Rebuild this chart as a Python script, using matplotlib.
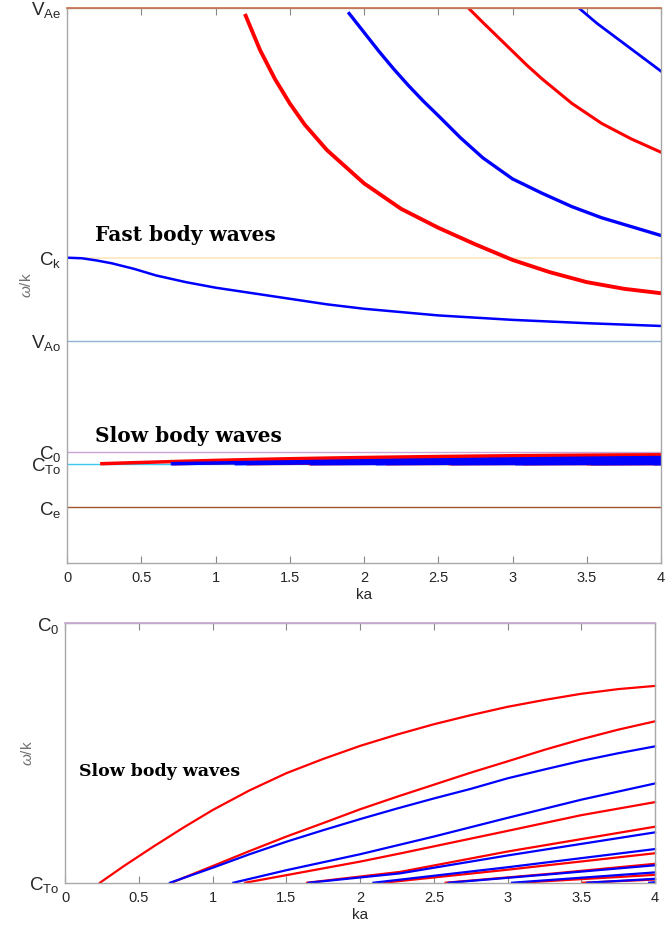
import numpy as np
import matplotlib.pyplot as plt

plt.rcParams['font.family'] = ['Liberation Sans', 'DejaVu Sans']
plt.rcParams['mathtext.fontset'] = 'custom'
plt.rcParams['mathtext.rm'] = 'Liberation Sans'
plt.rcParams['mathtext.it'] = 'Liberation Sans:italic'

# characteristic speeds (omega/k)
v_Ae = 5.0
c_k = 2.75
v_A0 = 2.0
c_0 = 1.0
c_T0 = 0.8944
c_e = 0.5

# fast body waves: ka and phase speed
fast0_ka = [0, 0.1, 0.2, 0.3, 0.45, 0.6, 0.8, 1.0, 1.25, 1.5, 1.75, 2.0, 2.5, 3.0, 3.5, 4.0]
fast0_v = [2.75, 2.745, 2.725, 2.70, 2.65, 2.59, 2.53, 2.48, 2.43, 2.38, 2.33, 2.29, 2.23, 2.19, 2.16, 2.135]
fast1_ka = [1.203, 1.3, 1.4, 1.5, 1.6, 1.75, 2.0, 2.25, 2.5, 2.75, 3.0, 3.25, 3.5, 3.75, 4.0]
fast1_v = [4.93, 4.62, 4.36, 4.14, 3.95, 3.72, 3.42, 3.19, 3.02, 2.87, 2.73, 2.62, 2.53, 2.47, 2.43]
fast2_ka = [1.9, 2.0, 2.1, 2.2, 2.3, 2.4, 2.5, 2.65, 2.8, 3.0, 3.2, 3.4, 3.6, 3.8, 4.0]
fast2_v = [4.95, 4.78, 4.61, 4.45, 4.30, 4.16, 4.03, 3.83, 3.65, 3.46, 3.33, 3.21, 3.11, 3.03, 2.95]
fast3_ka = [2.71, 2.8, 2.9, 3.0, 3.1, 3.2, 3.3, 3.4, 3.5, 3.6, 3.7, 3.8, 3.9, 4.0]
fast3_v = [4.99, 4.87, 4.74, 4.61, 4.48, 4.36, 4.25, 4.14, 4.05, 3.96, 3.89, 3.82, 3.76, 3.70]
fast4_ka = [3.455, 3.57, 3.68, 3.79, 3.9, 4.0]
fast4_v = [4.99, 4.86, 4.75, 4.64, 4.53, 4.43]

# slow body waves (red = sausage, blue = kink)
slow_r1_ka = [0.235, 0.4, 0.6, 0.8, 1.0, 1.25, 1.5, 1.75, 2.0, 2.25, 2.5, 2.75, 3.0, 3.25, 3.5, 3.75, 4.0]
slow_r1_v = [0.8944, 0.9013, 0.9092, 0.9168, 0.9240, 0.9320, 0.9390, 0.9448, 0.9501,
             0.9547, 0.9589, 0.9626, 0.9660, 0.9688, 0.9713, 0.9732, 0.9745]
slow_r2_ka = [0.72, 1.0, 1.25, 1.5, 1.75, 2.0, 2.25, 2.5, 2.75, 3.0, 3.25, 3.5, 3.75, 4.0]
slow_r2_v = [0.8944, 0.9012, 0.9073, 0.9132, 0.9187, 0.9243, 0.9294, 0.9343, 0.9392,
             0.9438, 0.9485, 0.9528, 0.9567, 0.9601]
slow_b1_ka = [0.71, 1.0, 1.25, 1.5, 1.75, 2.0, 2.25, 2.5, 2.75, 3.0, 3.25, 3.5, 3.75, 4.0]
slow_b1_v = [0.8944, 0.9005, 0.9060, 0.9111, 0.9158, 0.9203, 0.9246, 0.9287, 0.9326,
             0.9369, 0.9405, 0.9440, 0.9471, 0.9499]
slow_b2_ka = [1.14, 1.5, 2.0, 2.5, 3.0, 3.5, 4.0]
slow_b2_v = [0.8944, 0.8995, 0.9060, 0.9132, 0.9208, 0.9282, 0.9348]
slow_r3_ka = [1.22, 2.0, 2.27, 3.0, 3.5, 4.0]
slow_r3_v = [0.8944, 0.9030, 0.9063, 0.9155, 0.9219, 0.9272]
slow_r4_ka = [1.64, 2.27, 3.0, 4.0]
slow_r4_v = [0.8944, 0.8988, 0.9071, 0.9172]
slow_b3_ka = [1.65, 2.27, 3.0, 4.0]
slow_b3_v = [0.8944, 0.8982, 0.9055, 0.9149]
slow_b4_ka = [2.09, 3.0, 4.0]
slow_b4_v = [0.8944, 0.9007, 0.9081]
slow_r5_ka = [2.16, 3.0, 4.0]
slow_r5_v = [0.8944, 0.8997, 0.9064]
slow_r6_ka = [2.58, 3.3, 4.0]
slow_r6_v = [0.8944, 0.8981, 0.9021]
slow_b5_ka = [2.60, 3.3, 4.0]
slow_b5_v = [0.8944, 0.8979, 0.9015]
slow_b6_ka = [3.03, 4.0]
slow_b6_v = [0.8944, 0.8986]
slow_r7_ka = [3.08, 4.0]
slow_r7_v = [0.8944, 0.8976]
slow_r8_ka = [3.51, 4.0]
slow_r8_v = [0.8944, 0.8957]
slow_b7_ka = [3.54, 4.0]
slow_b7_v = [0.8944, 0.8960]
slow_b8_ka = [3.96, 4.0]
slow_b8_v = [0.8944, 0.8946]

slow_red = [(slow_r1_ka, slow_r1_v), (slow_r2_ka, slow_r2_v), (slow_r3_ka, slow_r3_v),
            (slow_r4_ka, slow_r4_v), (slow_r5_ka, slow_r5_v), (slow_r6_ka, slow_r6_v),
            (slow_r7_ka, slow_r7_v), (slow_r8_ka, slow_r8_v)]
slow_blue = [(slow_b1_ka, slow_b1_v), (slow_b2_ka, slow_b2_v), (slow_b3_ka, slow_b3_v),
             (slow_b4_ka, slow_b4_v), (slow_b5_ka, slow_b5_v), (slow_b6_ka, slow_b6_v),
             (slow_b7_ka, slow_b7_v), (slow_b8_ka, slow_b8_v)]

xticks = [0, 0.5, 1, 1.5, 2, 2.5, 3, 3.5, 4]
xticklabels = ['0', '0.5', '1', '1.5', '2', '2.5', '3', '3.5', '4']

RED = '#ff0000'
BLUE = '#0000ff'
GREY = '#a8a8a8'
TXT = '#262626'


def style_axes(ax, ylab_x):
    for s in ax.spines.values():
        s.set_color(GREY)
        s.set_linewidth(1.0)
    ax.set_xlim(0, 4)
    ax.set_xticks(xticks)
    ax.set_xticklabels(xticklabels)
    ax.tick_params(axis='x', direction='in', top=True, length=5, width=0.8,
                   color='#888888', labelsize=10.5, labelcolor=TXT, pad=6)
    ax.tick_params(axis='y', length=0, labelsize=13.5, labelcolor=TXT, pad=4)
    ax.set_xlabel('ka', fontsize=11, color=TXT, labelpad=2)
    ax.set_ylabel(r'$\omega$/k', fontsize=11, color='#707070')
    ax.yaxis.set_label_coords(ylab_x, 0.5)


fig = plt.figure(figsize=(6.65, 9.25), dpi=100)

# upper panel: full spectrum
ax1 = fig.add_axes([0.1008, 0.3914, 0.8932, 0.6])
ax1.set_ylim(0, v_Ae)
ax1.axhline(c_k, color='#fde6bf', lw=1.2, zorder=1)
ax1.axhline(v_A0, color='#8fb2d6', lw=1.0, zorder=1)
ax1.axhline(c_0, color='#c9a2d6', lw=1.0, zorder=1)
ax1.axhline(c_T0, color='#3cc8f0', lw=1.0, zorder=1)
ax1.axhline(c_e, color='#a0522d', lw=1.0, zorder=1)
ax1.axhline(v_Ae, color='#c8704a', lw=1.2, zorder=5, clip_on=False)

ax1.plot(fast0_ka, fast0_v, color=BLUE, lw=1.8)
ax1.plot(fast1_ka, fast1_v, color=RED, lw=2.8)
ax1.plot(fast2_ka, fast2_v, color=BLUE, lw=2.4)
ax1.plot(fast3_ka, fast3_v, color=RED, lw=2.2)
ax1.plot(fast4_ka, fast4_v, color=BLUE, lw=2.0)
for ka, v in slow_red:
    ax1.plot(ka, v, color=RED, lw=2.5)
for ka, v in slow_blue:
    ax1.plot(ka, v, color=BLUE, lw=2.5)

ax1.set_yticks([c_e, c_T0, c_0, v_A0, c_k, v_Ae])
ax1.set_yticklabels([r'$\mathrm{C_e}$', r'$\mathrm{C_{To}}$', r'$\mathrm{C_0}$',
                     r'$\mathrm{V_{Ao}}$', r'$\mathrm{C_k}$', r'$\mathrm{V_{Ae}}$'])
style_axes(ax1, -0.055)
ax1.text(0.19, 2.955, 'Fast body waves', fontsize=14.5, fontweight='bold',
         family='DejaVu Serif', va='center', ha='left')
ax1.text(0.19, 1.144, 'Slow body waves', fontsize=14.5, fontweight='bold',
         family='DejaVu Serif', va='center', ha='left')

# lower panel: slow band between c_T0 and c_0
ax2 = fig.add_axes([0.0982, 0.0457, 0.8868, 0.2805])
ax2.set_ylim(c_T0, c_0)
ax2.axhline(c_0, color='#c9a8d6', lw=1.2, zorder=5, clip_on=False)
for ka, v in slow_red:
    ax2.plot(ka, v, color=RED, lw=1.6, clip_on=False)
for ka, v in slow_blue:
    ax2.plot(ka, v, color=BLUE, lw=1.6, clip_on=False)
ax2.set_yticks([c_T0, c_0])
ax2.set_yticklabels([r'$\mathrm{C_{To}}$', r'$\mathrm{C_0}$'])
style_axes(ax2, -0.051)
ax2.text(0.093, c_T0 + 0.427 * (c_0 - c_T0), 'Slow body waves', fontsize=12.5,
         fontweight='bold', family='DejaVu Serif', va='center', ha='left')

fig.savefig('out.png', dpi=100)
